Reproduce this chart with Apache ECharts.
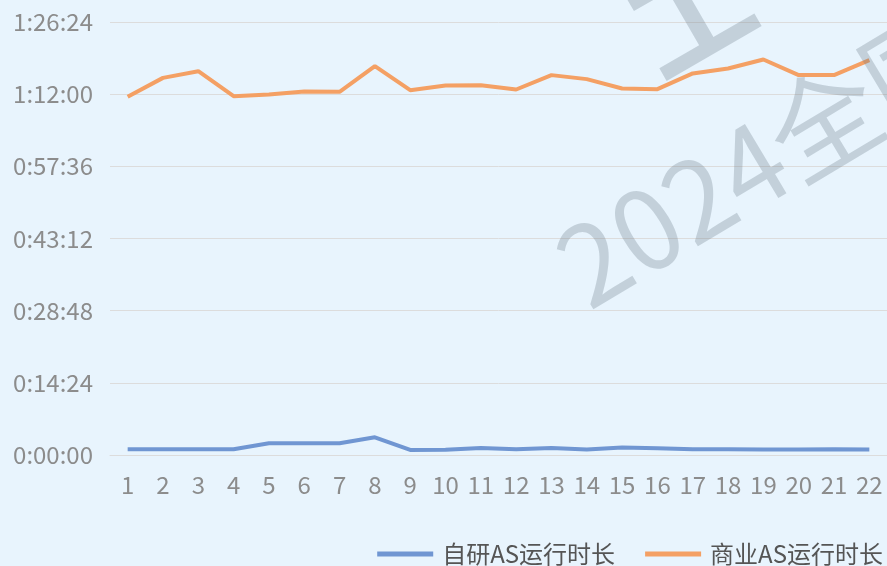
<!DOCTYPE html>
<html>
<head>
<meta charset="UTF-8">
<title>AS运行时长</title>
<script src="https://cdn.jsdelivr.net/npm/echarts@6/dist/echarts.min.js"></script>
<style>
  html, body { margin: 0; padding: 0; background: #e8f4fd; }
  #main { width: 887px; height: 566px; }
</style>
</head>
<body>
<div id="main"></div>
<script>
// 日期序号
var days = ['1','2','3','4','5','6','7','8','9','10','11','12','13','14','15','16','17','18','19','20','21','22'];
// 运行时长（秒）
var selfAS = [70, 70, 68, 68, 140, 140, 140, 212, 60, 62, 85, 70, 85, 65, 90, 80, 70, 70, 65, 65, 70, 65];
var bizAS = [4288, 4515, 4595, 4296, 4317, 4353, 4348, 4655, 4368, 4424, 4428, 4376,
             4548, 4500, 4388, 4380, 4568, 4628, 4735, 4548, 4548, 4727];
var seriesNames = ['自研AS运行时长', '商业AS运行时长'];

function fmt(sec) {
    var h = Math.floor(sec / 3600);
    var m = Math.floor((sec % 3600) / 60);
    var s = Math.round(sec % 60);
    return h + ':' + (m < 10 ? '0' : '') + m + ':' + (s < 10 ? '0' : '') + s;
}

var font = '"Noto Sans CJK SC", "Noto Sans", sans-serif';
var wmColor = 'rgba(110,125,140,0.3)';
var chart = echarts.init(document.getElementById('main'));
chart.setOption({
    backgroundColor: '#e8f4fd',
    animation: false,
    textStyle: { fontFamily: font },
    // 水印
    graphic: [
        {
            type: 'text',
            x: 596, y: 323,
            rotation: Math.PI * 31 / 180,
            z: 100,
            silent: true,
            style: {
                text: '2024全国',
                font: '110px ' + font,
                fill: wmColor,
                textVerticalAlign: 'bottom'
            }
        },
        {
            type: 'text',
            x: 668, y: 94,
            rotation: Math.PI / 6,
            z: 100,
            silent: true,
            style: {
                text: '工',
                font: 'bold 120px ' + font,
                fill: wmColor,
                textVerticalAlign: 'bottom'
            }
        }
    ],
    grid: { left: 110, right: 0, top: 22, bottom: 111 },
    legend: {
        data: seriesNames,
        right: -1,
        bottom: -5,
        icon: 'rect',
        itemWidth: 56,
        itemHeight: 5,
        itemGap: 30,
        textStyle: { fontSize: 24, color: '#555', fontFamily: font, padding: [0, 0, 0, 4] }
    },
    xAxis: {
        type: 'category',
        data: days,
        axisLine: { show: true, lineStyle: { color: '#dcdcdc' } },
        axisTick: { show: false },
        axisLabel: { color: '#8c8c8c', fontSize: 24, margin: 18, interval: 0 }
    },
    yAxis: {
        type: 'value',
        min: 0,
        max: 5184,
        interval: 864,
        axisLine: { show: false },
        axisTick: { show: false },
        splitLine: { lineStyle: { color: '#dcdcdc' } },
        axisLabel: { color: '#8c8c8c', fontSize: 24, margin: 17, formatter: fmt }
    },
    series: [
        {
            name: seriesNames[0],
            type: 'line',
            data: selfAS,
            showSymbol: false,
            color: '#7096d2',
            lineStyle: { width: 4 }
        },
        {
            name: seriesNames[1],
            type: 'line',
            data: bizAS,
            showSymbol: false,
            color: '#f4a064',
            lineStyle: { width: 4 }
        }
    ]
});
</script>
</body>
</html>
